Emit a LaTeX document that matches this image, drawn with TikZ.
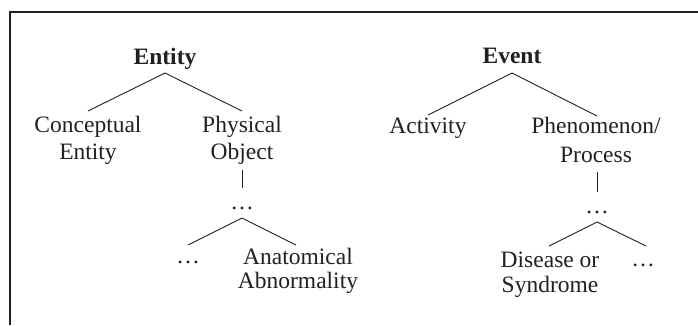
\documentclass[tikz,border=0pt]{standalone}
\usepackage{fontspec}
\setmainfont{Liberation Serif}
\usetikzlibrary{calc}
\definecolor{ink}{HTML}{231F20}
\newcommand\mytwo[3]{{\renewcommand\arraystretch{#1}\begin{tabular}[t]{@{}c@{}}#2\\#3\end{tabular}}}
\begin{document}
\begin{tikzpicture}[x=1pt,y=-1pt,
  lbl/.style={anchor=base,inner sep=0pt,text=ink,font=\fontsize{23.5}{27}\selectfont},
  head/.style={lbl,font=\fontsize{23.5}{27}\selectfont\bfseries},
  edge/.style={draw=ink,line width=0.9pt},
  frame/.style={draw=ink,line width=2pt}]
\useasboundingbox (0,0) rectangle (698,325);
% frame (top and left edges only)
\coordinate (ftr) at (698,12);
\coordinate (ftl) at (10,12);
\coordinate (fbl) at (10,325);
\draw[frame] (ftr) -- (ftl) -- (fbl);

% Entity tree
\node[head] (entity) at (165,64) {Entity};
\node[lbl] (ce) at (88,132) {\mytwo{1}{Conceptual}{Entity}};
\node[lbl] (po) at (242,132) {\mytwo{1}{Physical}{Object}};
\node[lbl] (d1) at (242,209) {\dots};
\node[lbl] (d2) at (188,263) {\dots};
\node[lbl] (aa) at (298,264) {\mytwo{0.89}{Anatomical}{Abnormality}};

\draw[edge] ($(entity.base)+(0,9)$) -- ($(ce.base)+(0,-21)$);
\draw[edge] ($(entity.base)+(0,9)$) -- ($(po.base)+(0,-21)$);
\draw[edge] ($(po.base)+(0,38)$) -- ($(d1.base)+(0,-21)$);
\draw[edge] ($(d1.base)+(0,9)$) -- ($(d2.base)+(0,-18)$);
\draw[edge] ($(d1.base)+(0,9)$) -- ($(aa.base)+(-2,-19)$);

% Event tree
\node[head] (event) at (512,63) {Event};
\node[lbl] (act) at (428,133) {Activity};
\node[lbl] (pp) at (596,133) {\mytwo{1.11}{Phenomenon/}{Process}};
\node[lbl] (d3) at (597,213) {\dots};
\node[lbl] (ds) at (550,267) {\mytwo{0.93}{Disease or}{Syndrome}};
\node[lbl] (d4) at (643,266) {\dots};

\draw[edge] ($(event.base)+(0,10)$) -- ($(act.base)+(0,-18)$);
\draw[edge] ($(event.base)+(0,10)$) -- ($(pp.base)+(1,-17)$);
\draw[edge] ($(pp.base)+(1,39)$) -- ($(d3.base)+(0,-21)$);
\draw[edge] ($(d3.base)+(0,9)$) -- ($(ds.base)+(-1,-21)$);
\draw[edge] ($(d3.base)+(0,9)$) -- ($(d4.base)+(3,-20)$);
\end{tikzpicture}
\end{document}
